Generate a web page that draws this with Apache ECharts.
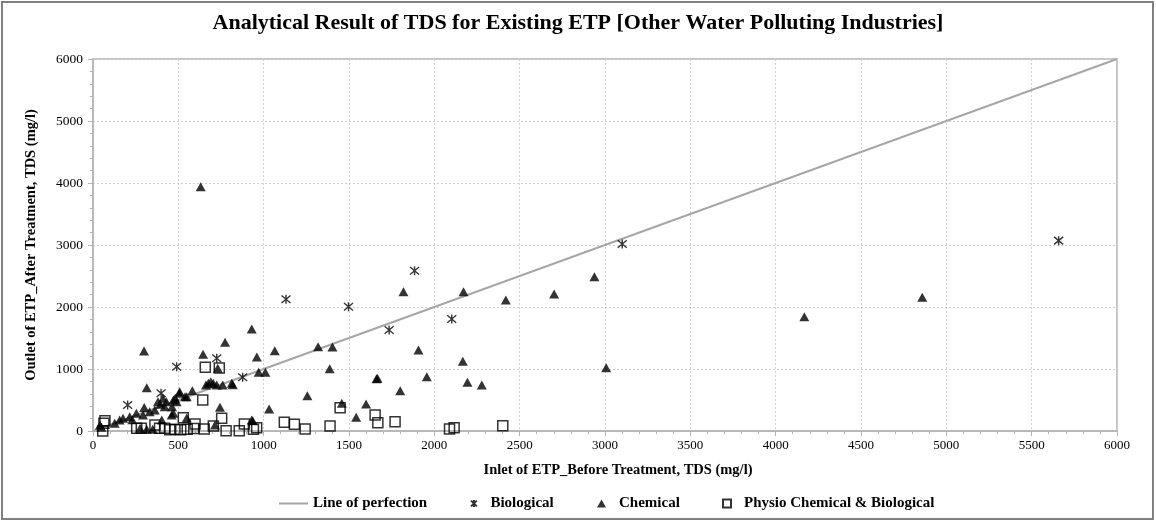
<!DOCTYPE html>
<html>
<head>
<meta charset="utf-8">
<script src="https://cdn.jsdelivr.net/npm/echarts@6/dist/echarts.min.js"></script>
<style>
html,body{margin:0;padding:0;background:#fff;}
#chart{width:1156px;height:522px;}
</style>
</head>
<body>
<div id="chart"></div>
<script>
const titleText = 'Analytical Result of TDS for Existing ETP [Other Water Polluting Industries]';
const xName = 'Inlet of ETP_Before Treatment, TDS (mg/l)';
const yName = 'Outlet of ETP_After Treatment, TDS (mg/l)';
const seriesNames = ['Line of perfection', 'Biological', 'Chemical', 'Physio Chemical & Biological'];

const perfectionLine = [[0, 0], [6000, 6000]];

const biological = [
  [203,419],[399,608],[490,1037],[725,1172],[877,866],[1131,2124],[1497,2005],
  [1735,1629],[1884,2586],[2102,1806],[3101,3016],[5658,3070]
];

const chemical = [
  [631,3941],[299,1290],[930,1645],[774,1430],[645,1237],[960,1194],[1065,1295],
  [1319,1360],[1403,1355],[1387,1005],[731,1011],[971,946],[1010,946],[315,699],
  [662,742],[690,795],[725,742],[760,742],[676,769],[705,769],[813,769],[819,747],
  [1256,570],[582,650],[549,553],[508,634],[539,553],[506,608],[490,473],[471,500],
  [744,382],[1032,355],[1458,446],[1600,435],[1661,844],[1542,221],
  [1819,2247],[2171,2247],[2419,2113],[2702,2210],[2938,2489],[1907,1306],[2167,1124],
  [1667,850],[1956,876],[1800,650],[2194,785],[2278,742],[3007,1021],[4168,1844],[4859,2156],
  [41,97],[49,60],[127,124],[156,177],[176,205],[215,231],[254,285],[293,258],
  [332,311],[362,339],[381,473],[430,473],[420,392],[410,527],[463,392],[482,527],
  [461,258],[471,285],[403,177],[276,43],[315,27],[350,30],[549,210],[715,97],
  [936,166],[930,177],[230,180],[300,380],[395,430]
];

const physio = [
  [57,0],[70,166],[64,124],[256,43],[283,43],[363,97],[390,43],[420,43],[450,20],
  [480,30],[514,20],[529,215],[552,30],[590,40],[598,113],[643,500],[652,32],
  [658,1027],[705,81],[740,1016],[754,205],[780,5],[857,5],[887,113],[940,27],
  [959,53],[1121,140],[1180,108],[1243,32],[1389,81],[1448,376],[1653,258],
  [1669,134],[1770,150],[2089,32],[2116,53],[2401,86]
];

const serif = '"Liberation Serif", "DejaVu Serif", serif';
const asteriskPath = 'path://M0 0L10 10M10 0L0 10M5 -1L5 11';

const legendText = { fontFamily: serif, fontSize: 15, fontWeight: 'bold', color: '#000' };
function legendFor(name, left, extra) {
  return Object.assign({
    data: [name],
    left: left,
    top: 491,
    itemGap: 0,
    textStyle: Object.assign({}, legendText, { padding: [0, 0, 0, 8] }),
    selectedMode: false
  }, extra);
}

const chart = echarts.init(document.getElementById('chart'));
chart.setOption({
  animation: false,
  backgroundColor: '#fff',
  textStyle: { fontFamily: serif },
  title: {
    text: titleText,
    left: 'center',
    top: 7,
    textStyle: { fontFamily: serif, fontSize: 22, fontWeight: 'bold', color: '#000' }
  },
  graphic: [{
    type: 'rect',
    shape: { x: 2, y: 2, width: 1151, height: 517 },
    style: { fill: 'none', stroke: '#808080', lineWidth: 2 },
    silent: true
  }],
  grid: {
    left: 93, right: 39, top: 59, bottom: 91,
    show: true, borderColor: '#b3b3b3', borderWidth: 1.5, backgroundColor: 'transparent'
  },
  legend: [
    legendFor(seriesNames[0], 274, {
      icon: 'rect', itemWidth: 29, itemHeight: 2,
      textStyle: Object.assign({}, legendText, { padding: [0, 0, 0, 0] }),
      itemStyle: { color: '#a6a6a6' }
    }),
    legendFor(seriesNames[1], 465, { icon: asteriskPath, itemWidth: 7, itemHeight: 7 }),
    legendFor(seriesNames[2], 592, { icon: 'triangle', itemWidth: 9, itemHeight: 8 }),
    legendFor(seriesNames[3], 717, { icon: 'rect', itemWidth: 8, itemHeight: 8 })
  ],
  xAxis: {
    type: 'value',
    min: 0, max: 6000, interval: 500,
    name: xName,
    nameLocation: 'middle',
    nameGap: 32,
    nameTextStyle: { fontFamily: serif, fontSize: 14.5, fontWeight: 'bold', color: '#000', padding: [0, 0, 0, 26] },
    axisLine: { lineStyle: { color: '#b3b3b3', width: 1.5 } },
    axisTick: { show: true, length: 5, lineStyle: { color: '#b3b3b3' } },
    minorTick: { show: true, splitNumber: 5, length: 3, lineStyle: { color: '#b3b3b3' } },
    axisLabel: { fontFamily: serif, fontSize: 13, color: '#000', margin: 8, formatter: v => String(v) },
    splitLine: { show: true, lineStyle: { color: '#d0d0d0', type: [2, 2], width: 1 } }
  },
  yAxis: {
    type: 'value',
    min: 0, max: 6000, interval: 1000,
    name: yName,
    nameLocation: 'middle',
    nameGap: 54,
    nameTextStyle: { fontFamily: serif, fontSize: 14.5, fontWeight: 'bold', color: '#000' },
    axisLine: { show: true, lineStyle: { color: '#b3b3b3', width: 1.5 } },
    axisTick: { show: true, length: 5, lineStyle: { color: '#b3b3b3' } },
    minorTick: { show: true, splitNumber: 5, length: 3, lineStyle: { color: '#b3b3b3' } },
    axisLabel: { fontFamily: serif, fontSize: 13.5, color: '#000', margin: 10, formatter: v => String(v) },
    splitLine: { show: true, lineStyle: { color: '#d0d0d0', type: [2, 2], width: 1 } }
  },
  series: [
    {
      name: seriesNames[0],
      type: 'line',
      data: perfectionLine,
      symbol: 'none',
      lineStyle: { color: '#a6a6a6', width: 2 },
      itemStyle: { color: '#a6a6a6' },
      z: 1
    },
    {
      name: seriesNames[1],
      type: 'scatter',
      data: biological,
      symbol: asteriskPath,
      symbolSize: 9,
      itemStyle: { color: '#000', borderColor: '#000', borderWidth: 1.4 },
      z: 4
    },
    {
      name: seriesNames[2],
      type: 'scatter',
      data: chemical,
      symbol: 'triangle',
      symbolSize: [10, 9],
      itemStyle: { color: '#000' },
      z: 3
    },
    {
      name: seriesNames[3],
      type: 'scatter',
      data: physio,
      symbol: 'rect',
      symbolSize: 10,
      itemStyle: { color: 'rgba(255,255,255,0)', borderColor: '#000', borderWidth: 1.5 },
      z: 2
    }
  ]
});
</script>
</body>
</html>
